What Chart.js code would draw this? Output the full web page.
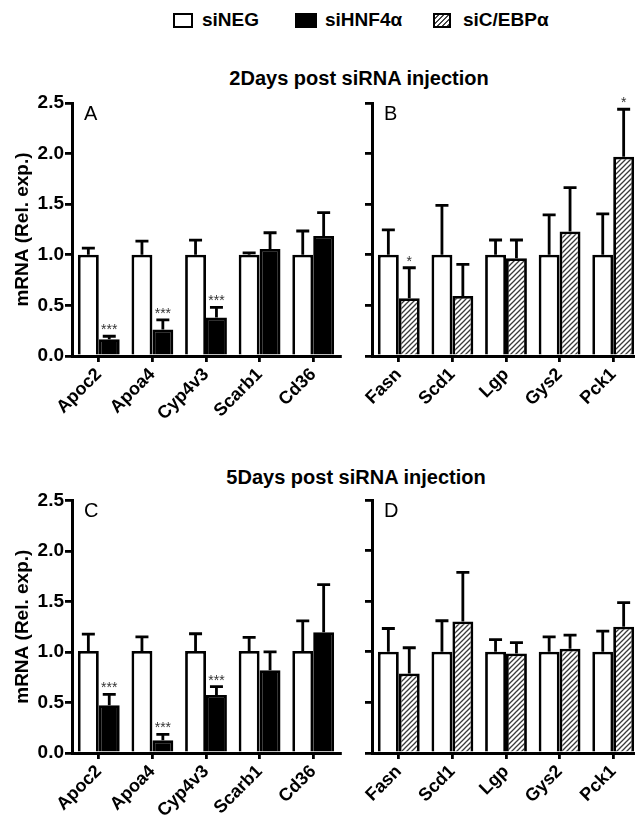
<!DOCTYPE html>
<html>
<head>
<meta charset="utf-8">
<script src="https://cdn.jsdelivr.net/npm/chart.js@4.4.1/dist/chart.umd.min.js"></script>
<style>
  body { margin: 0; width: 635px; height: 820px; overflow: hidden; background: #fff; position: relative;
         font-family: "Liberation Sans", Arial, sans-serif; }
  .abs { position: absolute; }
  .txt { font-weight: bold; white-space: nowrap; line-height: 20px; color: #000; }
  .box { border: 2px solid #000; box-sizing: border-box; }
  .title { font-size: 20px; transform: translateX(-50%); }
  canvas { position: absolute; }
</style>
</head>
<body>
<!-- legend -->
<div class="abs box" style="left:173px;top:13px;width:20px;height:15px;background:#fff"></div>
<div class="abs txt" style="left:202px;top:10px;font-size:19px">siNEG</div>
<div class="abs box" style="left:295px;top:13px;width:22px;height:15px;background:#000"></div>
<div class="abs txt" style="left:325px;top:10px;font-size:19px">siHNF4α</div>
<div class="abs box" style="left:433px;top:13px;width:18px;height:15px;background:repeating-linear-gradient(135deg,#fff 0 2px,#444 2px 3.4px)"></div>
<div class="abs txt" style="left:463px;top:10px;font-size:19px">siC/EBPα</div>

<div class="abs txt title" style="left:359px;top:68px">2Days post siRNA injection</div>
<div class="abs txt title" style="left:356px;top:467px">5Days post siRNA injection</div>

<canvas id="panelA" width="345" height="335" style="left:0;top:90px;width:345px;height:335px"></canvas>
<canvas id="panelB" width="300" height="335" style="left:345px;top:90px;width:300px;height:335px"></canvas>
<canvas id="panelC" width="345" height="332" style="left:0;top:488px;width:345px;height:332px"></canvas>
<canvas id="panelD" width="300" height="332" style="left:345px;top:488px;width:300px;height:332px"></canvas>

<script>
const liverGenes = ['Apoc2', 'Apoa4', 'Cyp4v3', 'Scarb1', 'Cd36'];
const metabGenes = ['Fasn', 'Scd1', 'Lgp', 'Gys2', 'Pck1'];
const yTicks = [0, 0.5, 1.0, 1.5, 2.0, 2.5];

// 2 days post injection
const negA = [1, 1, 1, 1, 1];
const negAErr = [1.065, 1.135, 1.145, 1.02, 1.235];
const hnfA = [0.165, 0.262, 0.38, 1.057, 1.186];
const hnfAErr = [0.195, 0.356, 0.48, 1.218, 1.416];
const starsA = ['***', '***', '***', '', ''];

const negB = [1, 1, 1, 1, 1];
const negBErr = [1.246, 1.488, 1.146, 1.394, 1.404];
const cebpB = [0.57, 0.593, 0.966, 1.23, 1.969];
const cebpBErr = [0.872, 0.905, 1.146, 1.664, 2.438];
const starsB = ['*', '', '', '', '*'];

// 5 days post injection
const negC = [1.01, 1.01, 1.01, 1.01, 1.01];
const negCErr = [1.176, 1.15, 1.18, 1.144, 1.307];
const hnfC = [0.472, 0.125, 0.574, 0.82, 1.196];
const hnfCErr = [0.58, 0.184, 0.656, 1.0, 1.667];
const starsC = ['***', '***', '***', '', ''];

const negD = [1, 1, 1, 1, 1];
const negDErr = [1.23, 1.307, 1.12, 1.148, 1.205];
const cebpD = [0.785, 1.30, 0.983, 1.03, 1.247];
const cebpDErr = [1.04, 1.785, 1.09, 1.165, 1.485];
const starsD = ['', '', '', '', ''];

const FONT = '"Liberation Sans", Arial, sans-serif';
Chart.defaults.font.family = FONT;
Chart.defaults.color = '#000';

function hatch() {
  const c = document.createElement('canvas');
  c.width = 5; c.height = 5;
  const g = c.getContext('2d');
  g.fillStyle = '#fff';
  g.fillRect(0, 0, 5, 5);
  g.strokeStyle = '#3a3a3a';
  g.lineWidth = 1.3;
  g.beginPath();
  g.moveTo(-1, 6); g.lineTo(6, -1);
  g.moveTo(-1, 1); g.lineTo(1, -1);
  g.moveTo(4, 6); g.lineTo(6, 4);
  g.stroke();
  return c.getContext('2d').createPattern(c, 'repeat');
}

const errorBars = {
  id: 'errorBars',
  afterDatasetsDraw(chart) {
    const { ctx, scales: { y } } = chart;
    ctx.save();
    chart.data.datasets.forEach((ds, i) => {
      chart.getDatasetMeta(i).data.forEach((bar, j) => {
        const yE = y.getPixelForValue(ds.errTop[j]);
        ctx.strokeStyle = '#000';
        ctx.lineWidth = 2.8;
        ctx.beginPath();
        ctx.moveTo(bar.x, bar.y);
        ctx.lineTo(bar.x, yE);
        ctx.moveTo(bar.x - 6.5, yE);
        ctx.lineTo(bar.x + 6.5, yE);
        ctx.stroke();
        const s = ds.stars && ds.stars[j];
        if (s) {
          ctx.fillStyle = '#333';
          ctx.font = '14px ' + FONT;
          ctx.textAlign = 'center';
          ctx.textBaseline = 'alphabetic';
          ctx.fillText(s, bar.x, yE - 2);
        }
      });
    });
    const a = chart.chartArea;
    ctx.fillStyle = '#000';
    ctx.font = '20px ' + FONT;
    ctx.textAlign = 'left';
    ctx.textBaseline = 'alphabetic';
    ctx.fillText(chart.options.plugins.panelLetter, a.left + 12, a.top + 17);
    ctx.restore();
  },
};

function makePanel(id, cats, ctrl, ctrlErr, treat, treatErr, stars, treatFill, o) {
  return new Chart(document.getElementById(id), {
    type: 'bar',
    data: {
      labels: cats,
      datasets: [
        { label: 'siNEG', data: ctrl, errTop: ctrlErr, backgroundColor: '#fff' },
        { label: 'treated', data: treat, errTop: treatErr, stars: stars, backgroundColor: treatFill },
      ],
    },
    options: {
      responsive: false,
      animation: false,
      layout: { padding: { top: o.top, right: o.right, left: 0, bottom: 0 }, autoPadding: false },
      datasets: {
        bar: { borderColor: '#000', borderWidth: 2.8, barPercentage: 1, categoryPercentage: 0.78 },
      },
      plugins: { legend: { display: false }, tooltip: { enabled: false }, panelLetter: o.letter },
      scales: {
        x: {
          afterFit: (s) => { s.height = o.xh; },
          grid: { offset: false, drawOnChartArea: false, color: '#000', lineWidth: 2.8, tickLength: 6 },
          border: { color: '#000', width: 3 },
          ticks: { autoSkip: false, maxRotation: 45, minRotation: 45, padding: 2,
                   font: { size: 18, weight: 'bold' }, color: '#000' },
        },
        y: {
          min: 0,
          max: 2.5,
          afterFit: (s) => { s.width = o.yw; },
          afterBuildTicks: (s) => { s.ticks = yTicks.map((v) => ({ value: v })); },
          grid: { drawOnChartArea: false, color: '#000', lineWidth: 2.8, tickLength: 7 },
          border: { color: '#000', width: 3 },
          ticks: { display: o.yLabels, padding: 1, font: { size: 19, weight: 'bold' }, color: '#000',
                   callback: (v) => Number(v).toFixed(1) },
          title: { display: o.yLabels, text: 'mRNA (Rel. exp.)', font: { size: 19, weight: 'bold' },
                   color: '#000', padding: { top: 11, bottom: 0 } },
        },
      },
    },
    plugins: [errorBars],
  });
}

const stripes = hatch();
makePanel('panelA', liverGenes, negA, negAErr, hnfA, hnfAErr, starsA, '#000',
  { top: 13, right: 5, xh: 69, yw: 72, yLabels: true, letter: 'A' });
makePanel('panelB', metabGenes, negB, negBErr, cebpB, cebpBErr, starsB, stripes,
  { top: 13, right: 5, xh: 69, yw: 27, yLabels: false, letter: 'B' });
makePanel('panelC', liverGenes, negC, negCErr, hnfC, hnfCErr, starsC, '#000',
  { top: 12, right: 5, xh: 67, yw: 72, yLabels: true, letter: 'C' });
makePanel('panelD', metabGenes, negD, negDErr, cebpD, cebpDErr, starsD, stripes,
  { top: 12, right: 5, xh: 67, yw: 27, yLabels: false, letter: 'D' });
</script>
</body>
</html>
